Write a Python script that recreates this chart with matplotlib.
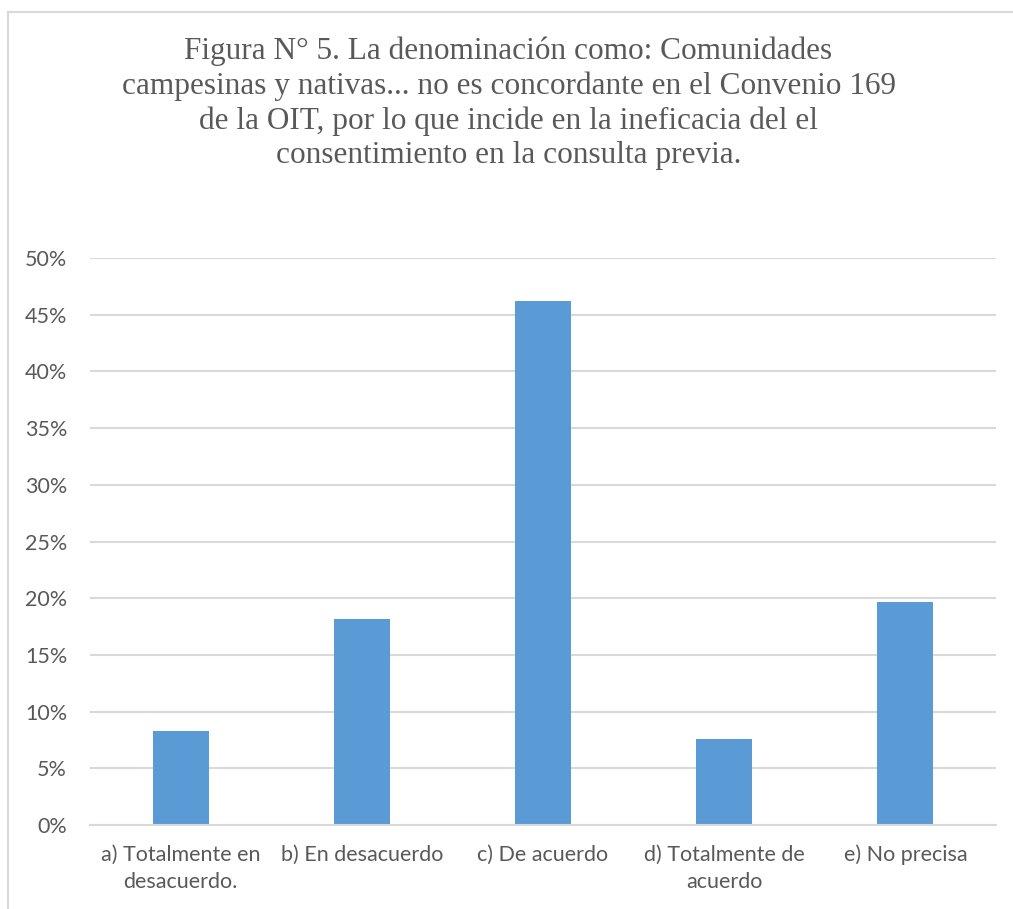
import matplotlib.pyplot as plt
from matplotlib.ticker import FuncFormatter, MultipleLocator

categories = [
    "a) Totalmente en\ndesacuerdo.",
    "b) En desacuerdo",
    "c) De acuerdo",
    "d) Totalmente de\nacuerdo",
    "e) No precisa",
]
percent = [8.3, 18.2, 46.2, 7.6, 19.7]

title = ("Figura N° 5. La denominación como: Comunidades\n"
         "campesinas y nativas... no es concordante en el Convenio 169\n"
         "de la OIT, por lo que incide en la ineficacia del el\n"
         "consentimiento en la consulta previa.")

bar_color = "#5B9BD5"
grid_color = "#D9D9D9"
text_color = "#595959"

fig = plt.figure(figsize=(10.13, 9.09), dpi=100)
fig.patch.set_facecolor("white")

# chart frame (only left/top edges visible)
fig.add_artist(plt.Line2D([8 / 1013, 8 / 1013], [0, 1 - 12 / 909],
                          transform=fig.transFigure, color="#D9D9D9", lw=1.5))
fig.add_artist(plt.Line2D([8 / 1013, 1], [1 - 12 / 909, 1 - 12 / 909],
                          transform=fig.transFigure, color="#D9D9D9", lw=1.5))

ax = fig.add_axes([90 / 1013, 1 - 825 / 909, (996 - 90) / 1013, (825 - 258) / 909])

x = range(len(categories))
ax.bar(x, [p / 100 for p in percent], width=0.31, color=bar_color, zorder=3)

ax.set_xlim(-0.5, len(categories) - 0.5)
ax.set_ylim(0, 0.5)
ax.yaxis.set_major_locator(MultipleLocator(0.05))
ax.yaxis.set_major_formatter(FuncFormatter(lambda v, _: f"{v * 100:.0f}%"))
ax.grid(axis="y", color=grid_color, linewidth=1.5, zorder=0)
ax.set_axisbelow(True)

for side in ["top", "right", "left"]:
    ax.spines[side].set_visible(False)
ax.spines["bottom"].set_color(grid_color)
ax.spines["bottom"].set_linewidth(1.5)
ax.spines["bottom"].set_zorder(4)

ax.set_xticks(list(x))
ax.set_xticklabels(categories, fontsize=15.5, color=text_color, family="Lato",
                   linespacing=1.5)
ax.tick_params(axis="x", length=0, pad=14)
ax.tick_params(axis="y", length=0, pad=16.5, labelsize=15.5, labelcolor=text_color)
for lbl in ax.get_yticklabels():
    lbl.set_family("Lato")

fig.text(0.502, 1 - 36 / 909, title, ha="center", va="top",
         family="Liberation Serif", fontsize=22.5, color=text_color,
         linespacing=1.25)

fig.savefig("out.png", dpi=100)
